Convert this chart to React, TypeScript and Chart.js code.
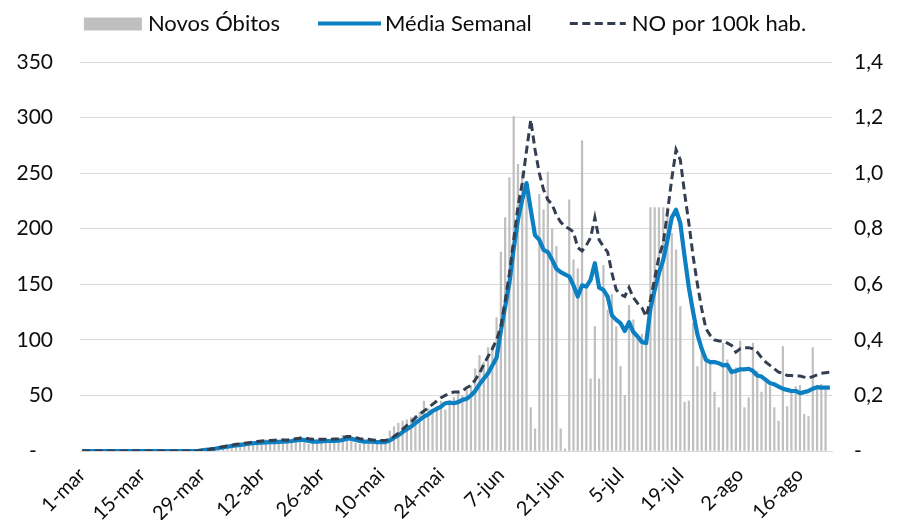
import React, { useEffect, useRef } from 'react';
import { Chart, registerables } from 'chart.js';

Chart.register(...registerables);

// ---- categories (daily, 1-mar .. 23-ago) ----
const MONTHS: [string, number][] = [
  ['mar', 31], ['abr', 30], ['mai', 31], ['jun', 30], ['jul', 31], ['ago', 23],
];
const CATEGORIES: string[] = MONTHS.flatMap(([m, n]) =>
  Array.from({ length: n }, (_, i) => `${i + 1}-${m}`)
);

const TICK_LABELS: string[] = [
  '1-mar', '15-mar', '29-mar', '12-abr', '26-abr', '10-mai', '24-mai',
  '7-jun', '21-jun', '5-jul', '19-jul', '2-ago', '16-ago',
];

// ---- series ----
const NOVOS_OBITOS: number[] = [
  0, 0, 0, 0, 0, 0, 0, 0, 0, 0,
  0, 0, 0, 0, 0, 0, 0, 0, 0, 0,
  0, 0, 0, 0, 0, 0, 0,
  1, 0, 2, 1, 3, 2, 4, 3, 6, 5,
  7, 4, 8, 6, 9, 7, 10, 6, 9, 8,
  11, 7, 10, 12, 13, 9, 6, 8, 10, 9,
  11, 8, 9, 10, 14, 12, 13, 7, 6, 9,
  10, 8, 9, 7, 6, 18, 22, 25, 27, 28,
  30, 32, 35, 45, 38, 36, 40, 45, 37, 45,
  48, 54, 50, 55, 59, 74, 86, 80, 93, 94,
  120, 179, 210, 246, 301, 258, 251, 230, 39, 20,
  231, 217, 251, 200, 184, 20, 2, 226, 172, 164,
  279, 148, 65, 112, 65, 167, 127, 141, 112, 76,
  50, 131, 118, 104, 105, 95, 219, 219, 219, 219,
  219, 196, 181, 130, 44, 45, 115, 76, 91, 85,
  80, 53, 39, 97, 82, 72, 75, 99, 39, 48,
  97, 72, 53, 64, 58, 39, 27, 94, 40, 53,
  58, 59, 33, 31, 93, 58, 60, 55,
];

const MEDIA_SEMANAL: number[] = [
  0, 0, 0, 0, 0, 0, 0, 0, 0, 0,
  0, 0, 0, 0, 0, 0, 0, 0, 0, 0,
  0, 0, 0, 0, 0, 0, 0, 0,
  0.5, 1, 1.5, 2, 2.7, 3.3, 4, 4.5, 5, 5.5,
  6, 6.5, 7, 7.3, 7.5, 7.8, 8, 8, 8.2, 8.4,
  8.6, 9, 9.5, 10, 10, 9, 8.5, 8.5, 8.7, 9,
  9, 9, 9.2, 10, 11, 11, 10, 9, 8.5, 8.5,
  8.3, 8, 8, 8, 9.5, 12, 14, 17, 19.5, 22,
  25, 28, 31, 33, 36, 38, 40, 43, 43.5, 43,
  44, 46, 47, 50, 54, 60, 65, 70, 77, 84,
  108, 130, 151, 182, 208, 226, 241, 217, 194, 190,
  181, 179, 172, 164, 161, 159, 157, 149, 139, 149,
  148, 154, 169, 147, 145, 139, 122, 118, 115, 108,
  116, 107, 103, 98, 97, 128, 145, 160, 172, 190,
  210, 217, 205, 175, 147, 125, 105, 92, 82, 80,
  80, 79, 77, 77.5, 71, 72, 73.5, 73.5, 74, 72,
  68, 67, 64, 61, 60, 58, 56, 55, 54, 54,
  52, 53, 54, 56, 57.5, 57, 57, 57,
];

const NO_POR_100K: number[] = [
  0, 0, 0, 0, 0, 0, 0, 0, 0, 0,
  0, 0, 0, 0, 0, 0, 0, 0, 0, 0,
  0, 0, 0, 0, 0, 0, 0, 0,
  0.002, 0.004, 0.006, 0.009, 0.012, 0.015, 0.018, 0.021, 0.024, 0.026,
  0.028, 0.030, 0.032, 0.034, 0.036, 0.037, 0.038, 0.039, 0.040, 0.040,
  0.040, 0.042, 0.044, 0.046, 0.048, 0.044, 0.042, 0.042, 0.042, 0.042,
  0.042, 0.043, 0.044, 0.048, 0.052, 0.052, 0.048, 0.044, 0.042, 0.042,
  0.040, 0.038, 0.038, 0.038, 0.042, 0.052, 0.064, 0.078, 0.092, 0.104,
  0.120, 0.132, 0.144, 0.156, 0.168, 0.180, 0.192, 0.200, 0.208, 0.212,
  0.212, 0.216, 0.228, 0.236, 0.256, 0.280, 0.312, 0.340, 0.368, 0.400,
  0.448, 0.540, 0.640, 0.760, 0.880, 0.964, 1.080, 1.192, 1.084, 1.000,
  0.940, 0.904, 0.888, 0.848, 0.824, 0.808, 0.800, 0.788, 0.732, 0.720,
  0.740, 0.768, 0.840, 0.760, 0.736, 0.716, 0.640, 0.580, 0.564, 0.556,
  0.588, 0.552, 0.532, 0.516, 0.484, 0.544, 0.620, 0.700, 0.748, 0.860,
  0.980, 1.084, 1.048, 0.928, 0.820, 0.700, 0.600, 0.512, 0.440, 0.416,
  0.400, 0.396, 0.396, 0.388, 0.380, 0.356, 0.368, 0.372, 0.372, 0.368,
  0.356, 0.336, 0.320, 0.308, 0.296, 0.284, 0.280, 0.272, 0.272, 0.270,
  0.270, 0.266, 0.262, 0.268, 0.274, 0.280, 0.282, 0.284,
];

const FONT_FAMILY = 'Lato';
const TEXT_COLOR = '#0d0d0d';
const GRID_COLOR = '#d9d9d9';

const legendPlugin = {
  id: 'excelLegend',
  afterDraw(chart: any) {
    const ctx = chart.ctx as CanvasRenderingContext2D;
    const ds = chart.data.datasets as any[];
    const specs = [
      { w: 58, gap: 6 },
      { w: 63, gap: 4 },
      { w: 56, gap: 6 },
    ];
    const spacing = 38;
    ctx.save();
    ctx.font = `22px ${FONT_FAMILY}`;
    ctx.textBaseline = 'middle';
    ctx.textAlign = 'left';
    const widths = ds.map((d, i) => specs[i].w + specs[i].gap + ctx.measureText(d.label).width);
    const total = widths.reduce((a, b) => a + b, 0) + spacing * (ds.length - 1);
    let x = 445 - total / 2;
    const cy = 24;
    ds.forEach((d, i) => {
      const s = specs[i];
      if (d.type === 'bar') {
        ctx.fillStyle = d.backgroundColor;
        ctx.fillRect(x, cy - 6.5, s.w, 13);
      } else {
        ctx.strokeStyle = d.borderColor;
        ctx.lineWidth = d.borderWidth;
        ctx.setLineDash(d.borderDash || []);
        ctx.beginPath();
        ctx.moveTo(x, cy - 0.5);
        ctx.lineTo(x + s.w, cy - 0.5);
        ctx.stroke();
        ctx.setLineDash([]);
      }
      ctx.fillStyle = TEXT_COLOR;
      ctx.fillText(d.label, x + s.w + s.gap, cy);
      x += widths[i] + spacing;
    });
    ctx.restore();
  },
};

export default function App() {
  const canvasRef = useRef<HTMLCanvasElement | null>(null);

  useEffect(() => {
    let chart: Chart | null = null;
    let cancelled = false;

    const build = () => {
      if (cancelled || !canvasRef.current) return;
      Chart.defaults.font.family = FONT_FAMILY;
      chart = new Chart(canvasRef.current, {
        type: 'bar',
        data: {
          labels: CATEGORIES,
          datasets: [
            {
              type: 'bar',
              label: 'Novos Óbitos',
              data: NOVOS_OBITOS,
              backgroundColor: '#c0c0c0',
              borderWidth: 0,
              barThickness: 1.6,
              yAxisID: 'y',
              order: 3,
            },
            {
              type: 'line',
              label: 'Média Semanal',
              data: MEDIA_SEMANAL,
              borderColor: '#0c80c2',
              backgroundColor: '#0c80c2',
              borderWidth: 4.2,
              pointRadius: 0,
              tension: 0,
              borderJoinStyle: 'round',
              yAxisID: 'y',
              order: 2,
            },
            {
              type: 'line',
              label: 'NO por 100k hab.',
              data: NO_POR_100K,
              borderColor: '#333f50',
              backgroundColor: '#333f50',
              borderWidth: 3,
              borderDash: [8, 4.5],
              pointRadius: 0,
              tension: 0,
              yAxisID: 'y1',
              order: 1,
            },
          ] as any,
        },
        options: {
          responsive: false,
          animation: false,
          devicePixelRatio: 1,
          events: [],
          layout: { padding: { top: 62, left: 0, right: 0, bottom: 0 } },
          plugins: {
            legend: { display: false },
            tooltip: { enabled: false },
          },
          scales: {
            x: {
              offset: true,
              grid: { display: false, drawTicks: false },
              border: { display: true, color: GRID_COLOR, width: 1 },
              ticks: {
                autoSkip: false,
                minRotation: 45,
                maxRotation: 45,
                padding: 12,
                color: TEXT_COLOR,
                font: { family: FONT_FAMILY, size: 20 },
                callback: (_v: any, i: number) =>
                  TICK_LABELS.includes(CATEGORIES[i]) ? CATEGORIES[i] : '',
              },
              afterFit: (s: any) => {
                s.height = 69;
              },
            },
            y: {
              position: 'left',
              min: 0,
              max: 350,
              grid: { color: GRID_COLOR, lineWidth: 1, drawTicks: false },
              border: { display: false },
              ticks: {
                stepSize: 50,
                padding: 27,
                color: TEXT_COLOR,
                font: { family: FONT_FAMILY, size: 21 },
                callback: (v: any) => (Number(v) === 0 ? '-   ' : String(v)),
              },
              afterFit: (s: any) => {
                s.width = 80;
              },
            },
            y1: {
              position: 'right',
              min: 0,
              max: 1.4,
              grid: { display: false, drawTicks: false },
              border: { display: false },
              ticks: {
                stepSize: 0.2,
                padding: 22,
                color: TEXT_COLOR,
                font: { family: FONT_FAMILY, size: 21 },
                callback: (v: any) =>
                  Math.abs(Number(v)) < 1e-9 ? '-' : Number(v).toFixed(1).replace('.', ','),
              },
              afterFit: (s: any) => {
                s.width = 67;
              },
            },
          },
        } as any,
        plugins: [legendPlugin],
      });
    };

    const fontsApi = (document as any).fonts;
    if (fontsApi && fontsApi.load) {
      Promise.all([
        fontsApi.load(`20px ${FONT_FAMILY}`),
        fontsApi.load(`22px ${FONT_FAMILY}`),
      ])
        .catch(() => undefined)
        .then(build);
    } else {
      build();
    }

    return () => {
      cancelled = true;
      if (chart) chart.destroy();
    };
  }, []);

  return (
    <div style={{ position: 'absolute', left: 0, top: 0, width: 899, height: 520, background: '#ffffff' }}>
      <canvas ref={canvasRef} width={899} height={520} style={{ display: 'block' }} />
    </div>
  );
}
